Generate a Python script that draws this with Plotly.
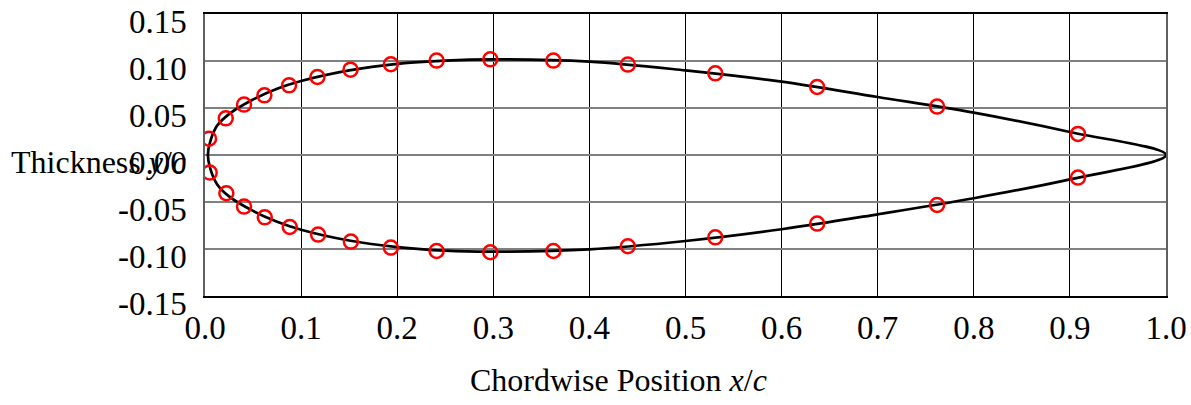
import plotly.graph_objects as go

# Surface curve, upper surface TE->LE, then lower LE->TE
upper_x = [1.0, 0.9, 0.8, 0.7, 0.6, 0.5, 0.4, 0.3, 0.25, 0.2, 0.15, 0.1, 0.075, 0.05, 0.025, 0.0125, 0.0055, 0.003]
upper_y = [0.0, 0.0245, 0.0451, 0.0617, 0.078, 0.090, 0.0994, 0.1018, 0.1005, 0.097, 0.090, 0.0787, 0.0705, 0.059, 0.0435, 0.031, 0.0145, 0.0]
lower_x = [0.0055, 0.0125, 0.025, 0.05, 0.075, 0.1, 0.15, 0.2, 0.25, 0.3, 0.4, 0.5, 0.6, 0.7, 0.8, 0.9, 1.0]
lower_y = [-0.0145, -0.031, -0.044, -0.0595, -0.071, -0.0795, -0.091, -0.098, -0.1018, -0.1028, -0.1003, -0.0915, -0.079, -0.0631, -0.046, -0.0259, 0.0]

# Measured points (red circles)
pts_upper_x = [0.0042, 0.0216, 0.0406, 0.0618, 0.0875, 0.117, 0.1514, 0.1934, 0.241, 0.2969, 0.3625, 0.44, 0.531, 0.637, 0.7618, 0.9084]
pts_upper_y = [0.0174, 0.039, 0.0536, 0.0635, 0.0741, 0.083, 0.0908, 0.0965, 0.1004, 0.1018, 0.1004, 0.0962, 0.0869, 0.0723, 0.0515, 0.0224]
pts_lower_x = [0.0049, 0.0222, 0.0406, 0.0622, 0.0882, 0.1177, 0.1518, 0.1934, 0.241, 0.2969, 0.3625, 0.44, 0.531, 0.637, 0.7618, 0.9084]
pts_lower_y = [-0.0187, -0.0407, -0.0549, -0.0663, -0.0766, -0.0847, -0.0921, -0.0985, -0.1021, -0.1035, -0.1021, -0.0971, -0.0876, -0.073, -0.0532, -0.024]

x_ticks = [0.0, 0.1, 0.2, 0.3, 0.4, 0.5, 0.6, 0.7, 0.8, 0.9, 1.0]
x_labels = ["0.0", "0.1", "0.2", "0.3", "0.4", "0.5", "0.6", "0.7", "0.8", "0.9", "1.0"]
y_ticks = [0.15, 0.10, 0.05, 0.0, -0.05, -0.10, -0.15]
y_labels = ["0.15", "0.10", "0.05", "0.00", "-0.05", "-0.10", "-0.15"]

font_name = "Liberation Serif"
fs_tick = 33
fs_title = 32

fig = go.Figure()
fig.add_trace(go.Scatter(
    x=upper_x + lower_x, y=upper_y + lower_y, mode="lines",
    line=dict(color="black", width=2.7, shape="spline", smoothing=1.0),
    showlegend=False, hoverinfo="skip"))
fig.add_trace(go.Scatter(
    x=pts_upper_x + pts_lower_x, y=pts_upper_y + pts_lower_y, mode="markers",
    marker=dict(symbol="circle-open", size=14, color="red", line=dict(width=2.5, color="red")),
    showlegend=False))

fig.update_layout(
    width=1191, height=405,
    margin=dict(l=205, r=25, t=14, b=109),
    paper_bgcolor="white", plot_bgcolor="white",
    font=dict(family=font_name, size=fs_tick, color="black"),
    xaxis=dict(range=[0, 1], tickvals=x_ticks, ticktext=x_labels, automargin=False,
               showgrid=True, gridcolor="black", gridwidth=1,
               showline=True, linecolor="black", linewidth=1.5, mirror=True,
               ticks="", zeroline=False, ticklabelstandoff=2, ticklabeloverflow="allow",
               tickfont=dict(family=font_name, size=fs_tick, color="black")),
    yaxis=dict(range=[-0.15, 0.15], tickvals=y_ticks, ticktext=y_labels, automargin=False,
               showgrid=True, gridcolor="#808080", gridwidth=2,
               showline=True, linecolor="#606060", linewidth=1.5, mirror=True,
               ticks="", zeroline=False, ticklabelshift=7, ticklabelstandoff=10,
               ticklabeloverflow="allow",
               tickfont=dict(family=font_name, size=fs_tick, color="black")),
)

fig.add_annotation(text="Chordwise Position <i>x</i>/<i>c</i>", xref="paper", yref="paper",
                   x=0.4308, y=-0.298, xanchor="center", yanchor="middle", showarrow=False,
                   font=dict(family=font_name, size=fs_title, color="black"))
fig.add_annotation(text="Thickness <i>y</i>/<i>c</i>", xref="paper", yref="y",
                   x=-0.2035, y=0.0, xanchor="left", yanchor="middle", yshift=-7, showarrow=False,
                   font=dict(family=font_name, size=fs_title, color="black"))

fig.write_html("out.html", config={"displayModeBar": False})

# remove the default page margin so the figure fills the window exactly
with open("out.html", "r", encoding="utf-8") as f:
    html = f.read()
html = html.replace("<head>", "<head><style>html,body{margin:0;padding:0;overflow:hidden;}</style>", 1)
with open("out.html", "w", encoding="utf-8") as f:
    f.write(html)
